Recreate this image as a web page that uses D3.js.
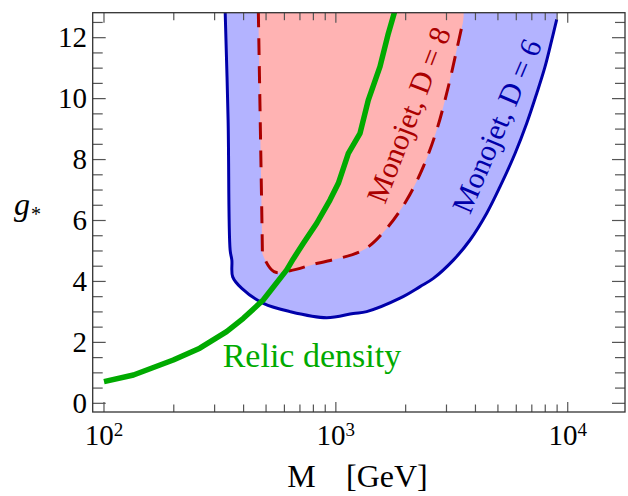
<!DOCTYPE html>
<html>
<head>
<script src="https://d3js.org/d3.v7.min.js"></script>
<style>
    body { margin: 0; background: #fff; }
    text { font-family: "Liberation Serif", "Times New Roman", serif; }
</style>
</head>
<body>
<svg width="628" height="496"></svg>
<script>
    const width = 628, height = 496;
    const margin = { top: 12.7, right: 3, bottom: 84, left: 92.7 };
    const svg = d3.select("svg");
    const serif = "Liberation Serif, Times New Roman, serif";

    // relic density curve (M in GeV, g*)
    const relicM = [100, 134, 199, 259, 338, 399, 486, 614, 655, 724, 827, 943, 1025, 1132, 1271, 1380, 1550, 1684, 1800];
    const relicG = [0.71, 0.93, 1.42, 1.81, 2.35, 2.79, 3.39, 4.38, 4.74, 5.25, 5.91, 6.67, 7.22, 8.2, 8.86, 9.95, 11.05, 12.14, 12.9];

    // monojet D = 6 boundary (last point only closes the fill at the top)
    const d6M = [333, 343, 350, 356, 359, 393, 487, 634, 913, 1189, 1358, 1891, 2307, 2633, 3211, 3790, 4474, 5105, 5926, 6656, 7350, 7983, 8531, 8966, 9100];
    const d6G = [12.9, 9.3, 5.03, 4.7, 4.15, 3.77, 3.28, 3.01, 2.81, 2.95, 3.01, 3.45, 3.83, 4.1, 4.7, 5.36, 6.24, 7.11, 8.2, 9.19, 10.17, 11.05, 11.92, 12.6, 12.9];

    // monojet D = 8 boundary
    const d8M = [463, 482, 482, 541, 634, 799, 1313, 1657, 2021, 2384, 2723, 3055, 3320, 3544, 3560];
    const d8G = [12.9, 5.03, 4.92, 4.32, 4.35, 4.56, 5.03, 5.74, 6.67, 7.77, 8.97, 10.39, 11.6, 12.58, 12.9];

    const yTicks = [0, 2, 4, 6, 8, 10, 12];
    const xTicks = [100, 1000, 10000];
    const xTickExp = ["2", "3", "4"];

    const x = d3.scaleLog().domain([89.4, 17660]).range([margin.left, width - margin.right]);
    const y = d3.scaleLinear().domain([-0.285, 12.82]).range([height - margin.bottom, margin.top]);

    const zip = (a, b) => a.map((v, i) => [v, b[i]]);
    const line = d3.line().x(d => x(d[0])).y(d => y(d[1]));
    const smooth = d3.line().x(d => x(d[0])).y(d => y(d[1])).curve(d3.curveCatmullRom.alpha(0.5));

    svg.append("clipPath").attr("id", "plot")
        .append("rect")
        .attr("x", x.range()[0]).attr("y", y.range()[1])
        .attr("width", x.range()[1] - x.range()[0])
        .attr("height", y.range()[0] - y.range()[1]);

    const g = svg.append("g").attr("clip-path", "url(#plot)");

    const d6 = zip(d6M, d6G), d8 = zip(d8M, d8G);

    // filled regions
    g.append("path").attr("d", smooth(d6) + "Z").attr("fill", "#b3b3ff");
    g.append("path").attr("d", smooth(d8) + "Z").attr("fill", "#ffb3b3");

    // boundaries
    g.append("path").attr("d", smooth(d6.slice(0, -1)))
        .attr("fill", "none").attr("stroke", "#0000aa").attr("stroke-width", 3);
    g.append("path").attr("d", smooth(d8.slice(0, -1)))
        .attr("fill", "none").attr("stroke", "#aa0000").attr("stroke-width", 3)
        .attr("stroke-dasharray", "17,11");

    // relic density
    g.append("path").attr("d", line(zip(relicM, relicG)))
        .attr("fill", "none").attr("stroke", "#00aa00").attr("stroke-width", 5.5)
        .attr("stroke-linejoin", "round");

    // labels inside plot
    svg.append("text").attr("x", 222.7).attr("y", 366.7).attr("font-family", serif)
        .attr("font-size", 34).attr("fill", "#00aa00").text("Relic density");
    svg.append("text").attr("transform", "translate(409,115) rotate(-69)").attr("font-family", serif)
        .attr("text-anchor", "middle").attr("dy", "0.33em")
        .attr("font-size", 30).attr("fill", "#aa0000").text("Monojet, D = 8");
    svg.append("text").attr("transform", "translate(497,126) rotate(-67)").attr("font-family", serif)
        .attr("text-anchor", "middle").attr("dy", "0.33em")
        .attr("font-size", 30).attr("fill", "#0000aa").text("Monojet, D = 6");

    // ticks (inward, on all four sides)
    const yMinor = d3.range(0, 12.9, 0.5).filter(v => !yTicks.includes(v));
    const xMinor = [];
    xTicks.forEach(d => d3.range(2, 10).forEach(k => xMinor.push(k * d)));
    const xDom = x.domain();
    const xMinorIn = xMinor.filter(v => v > xDom[0] && v < xDom[1]);

    const x0 = x.range()[0], x1 = x.range()[1], y0 = y.range()[0], y1 = y.range()[1];
    const ticks = svg.append("g").attr("stroke", "#555").attr("stroke-width", 1.2);

    [[yTicks, 13], [yMinor, 10]].forEach(([vals, len]) => {
        vals.forEach(v => {
            ticks.append("line").attr("x1", x0).attr("x2", x0 + len).attr("y1", y(v)).attr("y2", y(v));
            ticks.append("line").attr("x1", x1).attr("x2", x1 - len).attr("y1", y(v)).attr("y2", y(v));
        });
    });
    [[xTicks, 10], [xMinorIn, 7.5]].forEach(([vals, len]) => {
        vals.forEach(v => {
            ticks.append("line").attr("x1", x(v)).attr("x2", x(v)).attr("y1", y0).attr("y2", y0 - len);
            ticks.append("line").attr("x1", x(v)).attr("x2", x(v)).attr("y1", y1).attr("y2", y1 + len);
        });
    });

    // frame
    svg.append("rect").attr("x", x0).attr("y", y1)
        .attr("width", x1 - x0).attr("height", y0 - y1)
        .attr("fill", "none").attr("stroke", "#333").attr("stroke-width", 1.3);

    // tick labels
    svg.selectAll("text.ylab").data(yTicks).enter().append("text")
        .attr("class", "ylab").attr("font-family", serif)
        .attr("x", x0 - 5.7).attr("y", d => y(d)).attr("dy", "0.32em")
        .attr("text-anchor", "end").attr("font-size", 29).text(d => d);

    const xl = svg.selectAll("text.xlab").data(xTicks).enter().append("text")
        .attr("class", "xlab").attr("font-family", serif)
        .attr("x", d => x(d)).attr("y", y0 + 33)
        .attr("text-anchor", "middle").attr("font-size", 29);
    xl.append("tspan").text("10");
    xl.append("tspan").attr("dy", -9).attr("font-size", 19).text((d, i) => xTickExp[i]);

    // axis titles
    svg.append("text").attr("x", 287.3).attr("y", 486.7).attr("font-family", serif).attr("font-size", 32).text("M");
    svg.append("text").attr("x", 346).attr("y", 486.7).attr("font-family", serif).attr("font-size", 32).text("[GeV]");
    const yt = svg.append("text").attr("x", 14).attr("y", 214.5).attr("font-family", serif).attr("font-size", 32);
    yt.append("tspan").attr("font-style", "italic").text("g");
    yt.append("tspan").attr("font-size", 20).attr("dy", 6.5).attr("dx", 1).text("*");
</script>
</body>
</html>
